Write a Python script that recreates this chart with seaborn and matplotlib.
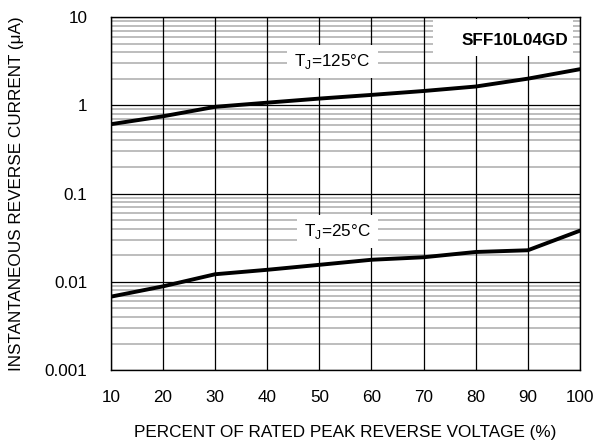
import matplotlib
matplotlib.use("Agg")
import matplotlib.pyplot as plt
import seaborn as sns
import pandas as pd
import numpy as np
from matplotlib.ticker import FixedLocator, NullFormatter
from matplotlib.patches import Rectangle

voltage_pct = [10, 20, 30, 40, 50, 60, 70, 80, 90, 100]
ir_125 = [0.61, 0.75, 0.96, 1.07, 1.19, 1.31, 1.45, 1.63, 2.0, 2.56]
ir_25 = [0.0068, 0.0089, 0.0122, 0.0137, 0.0156, 0.0178, 0.019, 0.0218, 0.0228, 0.038]
x_ticks = [10, 20, 30, 40, 50, 60, 70, 80, 90, 100]
y_ticks = [0.001, 0.01, 0.1, 1, 10]
y_labels = ["0.001", "0.01", "0.1", "1", "10"]

sns.set_theme(style="white")
plt.rcParams["font.family"] = ["Liberation Sans", "DejaVu Sans"]
plt.rcParams["text.color"] = "black"
plt.rcParams["axes.labelcolor"] = "black"
plt.rcParams["xtick.color"] = "black"
plt.rcParams["ytick.color"] = "black"

df = pd.concat([
    pd.DataFrame({"v": voltage_pct, "ir": ir_125, "tj": "125"}),
    pd.DataFrame({"v": voltage_pct, "ir": ir_25, "tj": "25"}),
])

fs = 12.3
fig = plt.figure(figsize=(5.93, 4.46), dpi=100)
ax = fig.add_axes([0.187, 0.170, 0.791, 0.792])

ax.set_yscale("log")
ax.set_xlim(10, 100)
ax.set_ylim(0.001, 10)

minor = []
for d in [0.001, 0.01, 0.1, 1]:
    for k in range(2, 10):
        minor.append(d * k)
for m in minor:
    ax.axhline(m, color="#b8b8b8", lw=1.3, zorder=1)
for t in y_ticks:
    ax.axhline(t, color="black", lw=0.9, zorder=1.5)
for t in x_ticks:
    ax.axvline(t, color="black", lw=0.9, zorder=1.5)

sns.lineplot(data=df, x="v", y="ir", units="tj", estimator=None, color="black",
             lw=2.8, ax=ax, zorder=5)

ax.set_xticks(x_ticks)
ax.set_xticklabels([str(t) for t in x_ticks], fontsize=fs)
ax.yaxis.set_major_locator(FixedLocator(y_ticks))
ax.set_yticklabels(y_labels, fontsize=fs)
ax.yaxis.set_minor_locator(FixedLocator([]))
ax.yaxis.set_minor_formatter(NullFormatter())
ax.tick_params(axis="x", length=0, pad=14, colors="black")
ax.tick_params(axis="y", length=0, pad=17, colors="black")
ax.set_xlabel("PERCENT OF RATED PEAK REVERSE VOLTAGE (%)", fontsize=fs, labelpad=15,
              color="black")
ax.set_ylabel("INSTANTANEOUS REVERSE CURRENT (\u03bcA)", fontsize=fs, labelpad=15,
              color="black")

for s in ax.spines.values():
    s.set_color("black")
    s.set_linewidth(1.0)
    s.set_zorder(6)

bbox = dict(facecolor="white", edgecolor="none", pad=5)
ax.text(52.5, 3.1, "T$_\\mathregular{J}$=125\u00b0C", ha="center", va="center",
        fontsize=fs, color="black", bbox=bbox, zorder=4)
ax.text(53.5, 0.037, "T$_\\mathregular{J}$=25\u00b0C", ha="center", va="center",
        fontsize=fs, color="black", bbox=bbox, zorder=4)
ax.add_patch(Rectangle((71.8, 3.6), 26.9, 5.9, facecolor="white", edgecolor="none", zorder=3))
ax.text(97.7, 5.4, "SFF10L04GD", ha="right", va="center", fontsize=fs, color="black",
        fontweight="bold", zorder=4)

fig.savefig("out.png", dpi=100)
